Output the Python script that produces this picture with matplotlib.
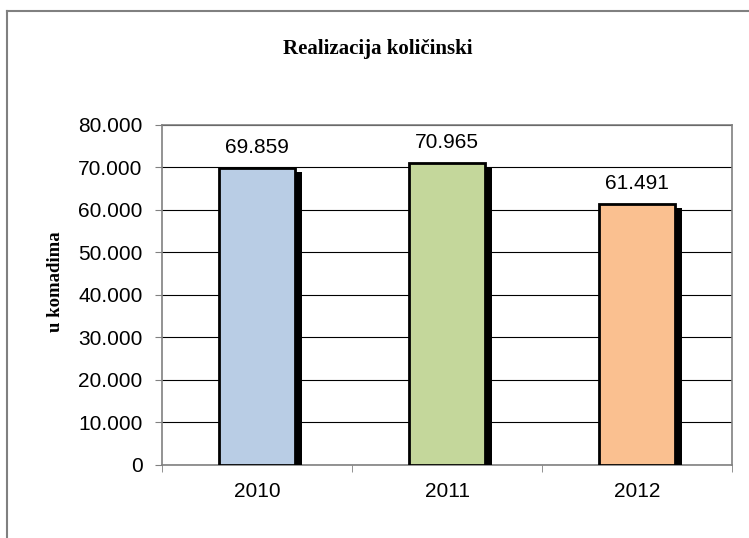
import matplotlib.pyplot as plt
import matplotlib.patheffects as pe
from matplotlib.lines import Line2D
from matplotlib.ticker import FuncFormatter

years = ["2010", "2011", "2012"]
values = [69859, 70965, 61491]
colors = ["#b9cde5", "#c4d79b", "#fac090"]

fig = plt.figure(figsize=(7.49, 5.38), dpi=100)
ax = fig.add_axes([0.2163, 0.1357, 0.761, 0.632])

x = range(len(years))
bars = ax.bar(x, values, width=0.4, color=colors, edgecolor="black", linewidth=2, zorder=3)
for b in bars:
    b.set_path_effects([pe.SimplePatchShadow(offset=(5, -3), shadow_rgbFace="black", alpha=1), pe.Normal()])

for xi, v in zip(x, values):
    ax.annotate(f"{v:,}".replace(",", "."), (xi, v), xytext=(0, 8), textcoords="offset points",
                ha="center", va="bottom", fontsize=15, family="Liberation Sans")

ax.set_xlim(-0.5, 2.5)
ax.set_ylim(0, 80000)
ax.set_yticks(range(0, 80001, 10000))
ax.yaxis.set_major_formatter(FuncFormatter(lambda v, p: f"{int(v):,}".replace(",", ".")))
ax.set_xticks(list(x))
ax.set_xticklabels(years)
ax.set_xticks([-0.5, 0.5, 1.5, 2.5], minor=True)
ax.tick_params(axis="x", which="major", length=0, pad=12, labelsize=15)
ax.tick_params(axis="x", which="minor", length=5, color="#808080")
ax.tick_params(axis="y", length=5, color="#808080", labelsize=15, pad=9)
for lab in ax.get_xticklabels() + ax.get_yticklabels():
    lab.set_family("Liberation Sans")

ax.grid(axis="y", color="black", linewidth=0.8, zorder=0)
for s in ax.spines.values():
    s.set_color("#808080")
    s.set_linewidth(1.2)

fig.text(55 / 749, 1 - 282 / 538, "u komadima", rotation=90, ha="center", va="center",
         fontsize=13.5, fontweight="bold", family="Liberation Serif")
fig.text(378 / 749, 1 - 49 / 538, "Realizacija količinski", ha="center", va="center", fontsize=15,
         fontweight="bold", family="Liberation Serif")

# outer chart border (only left and top visible)
fig.add_artist(Line2D([0.009, 0.009], [0, 0.98], transform=fig.transFigure, color="#808080", linewidth=1.5))
fig.add_artist(Line2D([0.009, 1], [0.98, 0.98], transform=fig.transFigure, color="#808080", linewidth=1.5))

fig.savefig("out.png", dpi=100)
